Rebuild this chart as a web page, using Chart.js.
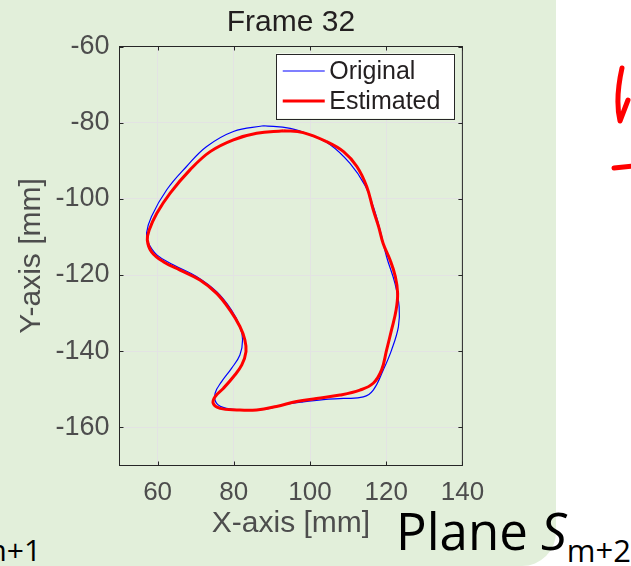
<!DOCTYPE html>
<html>
<head>
<meta charset="utf-8">
<script src="https://cdn.jsdelivr.net/npm/chart.js@4.4.0/dist/chart.umd.min.js"></script>
<style>
  html, body { margin: 0; padding: 0; background: #fff; width: 631px; height: 566px; overflow: hidden; }
  #panel { position: absolute; left: 0; top: 0; width: 556px; height: 566px; background: rgb(226,239,218); border-bottom-right-radius: 34px; }
  #slide { position: absolute; left: 0; top: 0; }
  #chart { position: absolute; left: 0; top: 0; }
</style>
</head>
<body>
<div id="panel"></div>
<svg id="slide" width="631" height="566">
  <text x="-21" y="561" font-family="Open Sans" font-size="30" fill="#000">m+1</text>
  <text x="396" y="550" font-family="Open Sans" font-size="51" fill="#000">Plane <tspan font-style="italic">S</tspan><tspan font-size="31" dy="12">m+2</tspan></text>
  <path d="M622 68 C618 86, 616 104, 620 121 L628 100" stroke="#ff0000" stroke-width="5" fill="none" stroke-linecap="round" stroke-linejoin="round"/>
  <path d="M614 168 L633 166" stroke="#ff0000" stroke-width="5" fill="none" stroke-linecap="round"/>
</svg>
<canvas id="chart" width="631" height="566"></canvas>
<script>
// Frame 32 contour (mm)
const xTicks = [60, 80, 100, 120, 140];
const yTicks = [-160, -140, -120, -100, -80, -60];

const origX = [87.8, 94.8, 100.0, 105.3, 110.5, 114.4, 116.6, 118.4, 120.1, 122.3, 123.4, 123.2, 121.4, 119.2, 116.6, 114.0,
  108.8, 103.5, 98.2, 93.0, 87.8, 82.5, 78.1, 75.5, 75.1, 76.8, 79.4, 81.6, 82.3, 81.6, 79.4, 75.5,
  70.2, 64.1, 59.8, 57.6, 57.1, 58.4, 62.4, 67.6, 72.8, 79.9, 87.8];
const origY = [-80.8, -81.5, -83.2, -85.8, -90.7, -96.4, -102.0, -108.2, -115.2, -122.2, -128.4, -133.6, -139.7, -145.0, -150.2, -152.0,
  -152.4, -152.7, -153.3, -154.1, -155.3, -155.4, -155.0, -153.7, -151.0, -148.0, -144.5, -141.0, -137.0, -133.5, -129.2, -124.4,
  -120.4, -117.3, -114.7, -111.6, -109.0, -104.6, -97.6, -91.5, -86.3, -82.3, -80.8];

const estX = [93.0, 98.2, 104.4, 108.8, 112.3, 114.9, 116.6, 118.0, 119.2, 121.0, 122.4, 123.0, 122.6, 121.4, 120.1, 118.8,
  116.6, 113.1, 107.9, 101.7, 96.5, 91.2, 86.0, 80.8, 76.4, 74.6, 75.1, 77.3, 79.9, 82.1, 83.2, 82.9,
  81.6, 79.0, 75.5, 71.1, 65.9, 61.5, 58.4, 57.3, 57.8, 59.8, 63.3, 68.5, 73.8, 79.9, 86.0, 93.0];
const estY = [-82.1, -82.6, -85.0, -87.6, -91.5, -96.8, -102.9, -107.3, -111.7, -116.0, -120.4, -124.8, -129.2, -134.4, -139.7, -144.9,
  -148.4, -150.2, -151.5, -152.4, -153.2, -154.5, -155.4, -155.4, -155.0, -153.7, -151.9, -149.7, -146.7, -143.6, -140.1, -137.0,
  -133.5, -129.2, -124.8, -121.3, -118.7, -116.5, -113.9, -110.8, -108.2, -103.8, -98.5, -92.4, -87.6, -84.5, -82.8, -82.1];

function toPoints(xs, ys) {
  return xs.map((x, i) => ({ x: x, y: ys[i] }));
}

const FONT = "'Liberation Sans', Arial, Helvetica, sans-serif";
const axisColor = '#262626';
const labelColor = '#4d4d4d';

// matlab style box with inward ticks
const axesBox = {
  id: 'axesBox',
  afterDraw(chart) {
    const { ctx, chartArea: a, scales } = chart;
    const tl = 4;
    ctx.save();
    ctx.strokeStyle = axisColor;
    ctx.lineWidth = 1;
    ctx.strokeRect(a.left, a.top, a.right - a.left, a.bottom - a.top);
    ctx.beginPath();
    xTicks.forEach(v => {
      const px = Math.round(scales.x.getPixelForValue(v)) + 0.5;
      ctx.moveTo(px, a.bottom); ctx.lineTo(px, a.bottom - tl);
      ctx.moveTo(px, a.top); ctx.lineTo(px, a.top + tl);
    });
    yTicks.forEach(v => {
      const py = Math.round(scales.y.getPixelForValue(v)) + 0.5;
      ctx.moveTo(a.left, py); ctx.lineTo(a.left + tl, py);
      ctx.moveTo(a.right, py); ctx.lineTo(a.right - tl, py);
    });
    ctx.stroke();
    ctx.restore();
  }
};

// legend drawn inside the axes, top right
const insideLegend = {
  id: 'insideLegend',
  afterDraw(chart) {
    const { ctx, chartArea: a } = chart;
    const sets = chart.data.datasets;
    ctx.save();
    ctx.font = '25px ' + FONT;
    const textW = Math.max(...sets.map(d => ctx.measureText(d.label).width));
    const lineLen = 42, padL = 6.5, gap = 4.5, padR = 14, rowH = 30;
    const w = padL + lineLen + gap + textW + padR;
    const h = 65;
    const left = a.right - 8 - w;
    const top = a.top + 7;
    ctx.fillStyle = '#fff';
    ctx.fillRect(left, top, w, h);
    ctx.strokeStyle = axisColor;
    ctx.lineWidth = 1;
    ctx.strokeRect(Math.round(left) + 0.5, Math.round(top) + 0.5, Math.round(w), Math.round(h));
    sets.forEach((d, i) => {
      const y = top + 17.5 + i * rowH;
      ctx.strokeStyle = d.borderColor;
      ctx.lineWidth = d.borderWidth;
      ctx.beginPath();
      ctx.moveTo(left + padL, y);
      ctx.lineTo(left + padL + lineLen, y);
      ctx.stroke();
      ctx.fillStyle = '#231f20';
      ctx.textBaseline = 'middle';
      ctx.fillText(d.label, left + padL + lineLen + gap, y + 1);
    });
    ctx.restore();
  }
};

const chart = new Chart(document.getElementById('chart'), {
  type: 'scatter',
  data: {
    datasets: [
      {
        label: 'Original',
        data: toPoints(origX, origY),
        showLine: true,
        borderColor: '#0000ff',
        borderWidth: 1.2,
        pointRadius: 0,
        tension: 0.4,
        order: 1
      },
      {
        label: 'Estimated',
        data: toPoints(estX, estY),
        showLine: true,
        borderColor: '#ff0000',
        borderWidth: 3,
        pointRadius: 0,
        tension: 0.4,
        order: 0
      }
    ]
  },
  options: {
    responsive: false,
    animation: false,
    events: [],
    layout: { padding: { left: 0, right: 168.6, top: 0, bottom: 0 } },
    plugins: {
      legend: { display: false },
      tooltip: { enabled: false },
      title: {
        display: true,
        text: 'Frame 32',
        fullSize: false,
        color: '#231f20',
        font: { family: FONT, size: 30, weight: 'normal' },
        padding: { top: 5, bottom: 5.5 }
      }
    },
    scales: {
      x: {
        type: 'linear',
        min: 50,
        max: 140,
        afterBuildTicks: s => { s.ticks = xTicks.map(v => ({ value: v })); },
        afterFit: s => { s.height = 100.5; },
        grid: { color: '#e3e3e3', drawTicks: false },
        border: { display: false },
        ticks: { color: labelColor, padding: 12, maxRotation: 0, font: { family: FONT, size: 26 } },
        title: {
          display: true,
          text: 'X-axis [mm]',
          color: labelColor,
          font: { family: FONT, size: 30 },
          padding: { top: 0, bottom: 24 }
        }
      },
      y: {
        type: 'linear',
        min: -170,
        max: -60,
        afterBuildTicks: s => { s.ticks = yTicks.map(v => ({ value: v })); },
        afterFit: s => { s.width = 119.5; },
        grid: { color: '#e3e3e3', drawTicks: false },
        border: { display: false },
        ticks: { color: labelColor, padding: 10, font: { family: FONT, size: 27 } },
        title: {
          display: true,
          text: 'Y-axis [mm]',
          color: labelColor,
          font: { family: FONT, size: 30 },
          padding: { top: 13.5, bottom: 0 }
        }
      }
    }
  },
  plugins: [axesBox, insideLegend]
});
</script>
</body>
</html>
